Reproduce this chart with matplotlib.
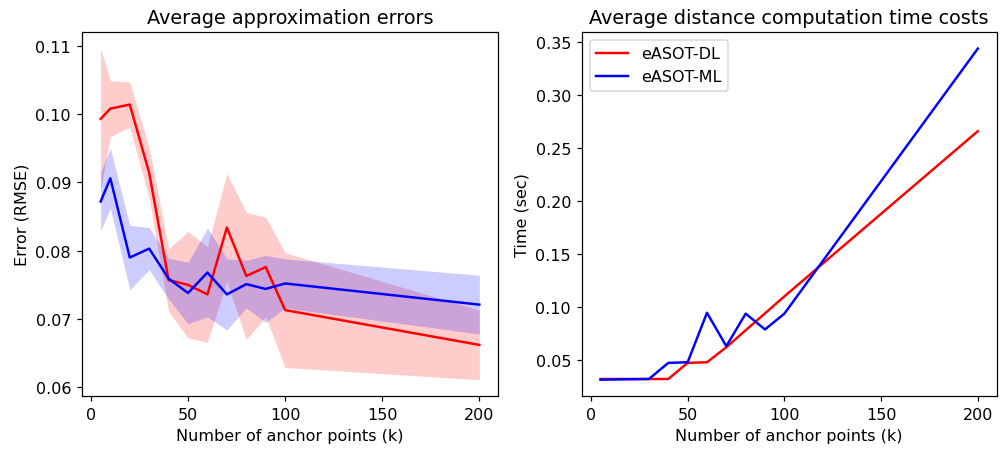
import matplotlib
matplotlib.use("Agg")
import matplotlib.pyplot as plt
from matplotlib.ticker import MultipleLocator
import numpy as np

plt.rcParams["font.size"] = 10.5

# anchor points (k)
k = np.array([5, 10, 20, 30, 40, 50, 60, 70, 80, 90, 100, 200])

# average approximation errors (RMSE), mean and std
err_dl = np.array([0.0993, 0.1008, 0.1014, 0.0914, 0.0757, 0.0750,
                   0.0736, 0.0834, 0.0763, 0.0776, 0.0713, 0.0662])
std_dl = np.array([0.0103, 0.0041, 0.0033, 0.0037, 0.0046, 0.0078,
                   0.0070, 0.0079, 0.0093, 0.0073, 0.0084, 0.0051])
err_ml = np.array([0.0872, 0.0906, 0.0790, 0.0803, 0.0759, 0.0738,
                   0.0768, 0.0736, 0.0751, 0.0744, 0.0752, 0.0721])
std_ml = np.array([0.0043, 0.0044, 0.0047, 0.0031, 0.0030, 0.0045,
                   0.0065, 0.0052, 0.0035, 0.0049, 0.0036, 0.0043])

# average distance computation time (sec)
time_dl = [0.0320, 0.0320, 0.0320, 0.0320, 0.0320, 0.0472,
           0.0478, 0.0620, 0.0780, 0.0940, 0.1100, 0.2660]
time_ml = [0.0313, 0.0315, 0.0318, 0.0320, 0.0472, 0.0478,
           0.0945, 0.0630, 0.0937, 0.0788, 0.0937, 0.3440]

labels = ["eASOT-DL", "eASOT-ML"]

fig = plt.figure(figsize=(1000 / 110, 454 / 110), dpi=110)
ax1 = fig.add_axes([0.0817, 0.1249, 0.4166, 0.8024])
ax2 = fig.add_axes([0.5817, 0.1249, 0.415, 0.8024])

# left: errors with std bands
ax1.plot(k, err_dl, "r-", linewidth=1.6)
ax1.fill_between(k, err_dl - std_dl, err_dl + std_dl, color="r", alpha=0.2, linewidth=0)
ax1.plot(k, err_ml, "b-", linewidth=1.6)
ax1.fill_between(k, err_ml - std_ml, err_ml + std_ml, color="b", alpha=0.2, linewidth=0)
ax1.set_title("Average approximation errors")
ax1.set_xlabel("Number of anchor points (k)")
ax1.set_ylabel("Error (RMSE)")

# right: time costs
ax2.plot(k, time_dl, "r-", linewidth=1.6, label=labels[0])
ax2.plot(k, time_ml, "b-", linewidth=1.6, label=labels[1])
ax2.set_title("Average distance computation time costs")
ax2.set_xlabel("Number of anchor points (k)")
ax2.set_ylabel("Time (sec)")
ax2.legend(loc="upper left")

for ax in (ax1, ax2):
    ax.xaxis.set_major_locator(MultipleLocator(50))

fig.savefig("out.png", dpi=110)
